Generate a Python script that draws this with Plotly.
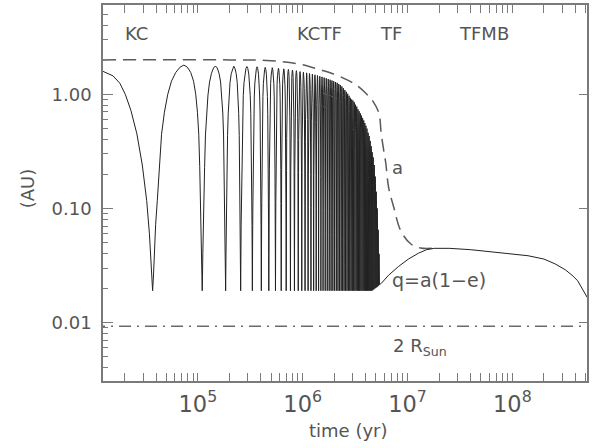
import plotly.graph_objects as go

# ---------------- data ----------------
# leading partial Kozai arc (time in yr, q in AU)
lead_t = [12400, 15500, 18000, 20300, 23000, 26200, 29500, 32500, 34500, 36000]
lead_q = [1.59, 1.45, 1.25, 1.0, 0.72, 0.45, 0.24, 0.117, 0.06, 0.032]

# times of pericentre minima (kyr)
min_t_kyr = [37, 110, 184, 256, 331, 403, 475, 550, 624, 696, 764, 834, 907, 980,
             1053, 1126, 1199, 1272, 1345, 1418, 1491, 1564, 1639, 1714, 1789, 1864,
             1939, 2014, 2092, 2170, 2248, 2326, 2404, 2482, 2564, 2646, 2728, 2810,
             2892, 2974, 3061, 3148, 3235, 3322, 3409, 3496, 3589, 3682, 3775, 3868,
             3961, 4054, 4154, 4254, 4354, 4454, 4554, 4654, 4762, 4870, 4978, 5086,
             5194, 5302, 5400]
# q at each minimum (AU)
min_q = [0.019] * 57 + [0.0192, 0.0195, 0.0198, 0.0201, 0.0204, 0.0207, 0.0211, 0.0215]
# q at each maximum between consecutive minima (AU)
peak_q = [1.80, 1.77, 1.76, 1.75, 1.74, 1.72, 1.71, 1.69, 1.67, 1.65, 1.63, 1.61,
          1.58, 1.56, 1.54, 1.52, 1.50, 1.48, 1.46, 1.44, 1.42, 1.40, 1.38, 1.36,
          1.34, 1.32, 1.30, 1.28, 1.26, 1.23, 1.20, 1.17, 1.13, 1.09, 1.05, 1.01,
          0.97, 0.93, 0.90, 0.88, 0.85, 0.81, 0.78, 0.74, 0.71, 0.68, 0.65, 0.62,
          0.59, 0.56, 0.53, 0.50, 0.46, 0.43, 0.39, 0.35, 0.31, 0.28, 0.24, 0.19,
          0.14, 0.10, 0.065, 0.04]
# shape of one half Kozai arc read from the first full cycle (phase, fraction of rise)
arc_phase = [0, 0.01, 0.02, 0.035, 0.055, 0.08, 0.11, 0.15, 0.2, 0.26, 0.335, 0.42, 0.5]
arc_frac = [0, 0.004, 0.012, 0.03, 0.055, 0.12, 0.24, 0.38, 0.55, 0.72, 0.86, 0.96, 1.0]

# after tidal capture
tail_t = [5.66e6, 6.6e6, 8.2e6, 1.02e7, 1.27e7, 1.52e7, 1.8e7, 2.5e7, 4e7, 5.9e7,
          1.0e8, 1.41e8, 2.0e8, 2.55e8, 3.2e8, 3.8e8, 4.2e8, 4.7e8, 5.2e8]
tail_q = [0.0222, 0.026, 0.031, 0.036, 0.0405, 0.0435, 0.0447, 0.0447, 0.0435, 0.042,
          0.040, 0.0385, 0.036, 0.0327, 0.029, 0.0255, 0.0232, 0.0195, 0.0165]

# semi-major axis a (dashed)
a_t = [1.24e4, 2e5, 4.5e5, 9.3e5, 1.43e6, 2.0e6, 2.59e6, 3.3e6, 4.0e6, 4.67e6, 5.34e6,
       5.6e6, 5.9e6, 6.2e6, 6.6e6, 7.4e6, 8.6e6, 1.07e7, 1.33e7, 1.7e7]
a_v = [2.0, 2.0, 1.98, 1.84, 1.65, 1.5, 1.35, 1.19, 1.02, 0.87, 0.68,
       0.46, 0.33, 0.25, 0.153, 0.102, 0.064, 0.049, 0.045, 0.0447]

# 2 R_sun in AU
r2sun = 0.0093
line_t = [1e4, 1e9]

# ---------------- build q curve ----------------
qt = list(lead_t)
qv = list(lead_q)
qt.append(min_t_kyr[0] * 1e3)
qv.append(min_q[0])
for i, Q in enumerate(peak_q):
    t0 = min_t_kyr[i] * 1e3
    t1 = min_t_kyr[i + 1] * 1e3
    qa, qb = min_q[i], min_q[i + 1]
    P = t1 - t0
    for ph, f in zip(arc_phase[1:], arc_frac[1:]):
        qt.append(t0 + ph * P)
        qv.append(qa + (Q - qa) * f)
    for ph, f in list(zip(arc_phase[:-1], arc_frac[:-1]))[::-1]:
        qt.append(t1 - ph * P)
        qv.append(qb + (Q - qb) * f)
qt += tail_t
qv += tail_q

FONT = "DejaVu Sans"
TXT = "#555555"
AX = "#7a7a7a"

fig = go.Figure()
fig.add_trace(go.Scatter(x=line_t, y=[r2sun, r2sun], mode="lines",
                         line=dict(color="#6a6a6a", width=1.5, dash="12px,6px,2px,6px"),
                         hoverinfo="skip"))
fig.add_trace(go.Scatter(x=a_t, y=a_v, mode="lines", line_shape="spline",
                         line=dict(color="#5a5a5a", width=1.5, dash="13px,7px"),
                         hoverinfo="skip"))
fig.add_trace(go.Scatter(x=qt, y=qv, mode="lines",
                         line=dict(color="#222222", width=1.0), hoverinfo="skip"))
fig.add_trace(go.Scatter(x=[1e5], y=[1], yaxis="y2", mode="markers",
                         marker=dict(opacity=0), hoverinfo="skip"))

axis_common = dict(type="log", showgrid=False, zeroline=False, ticks="inside",
                   tickcolor=AX, tickwidth=1, showline=True, linecolor=AX, linewidth=1.5,
                   tickfont=dict(family=FONT, size=18, color=TXT), dtick=1)

fig.update_layout(
    width=592, height=448,
    margin=dict(l=103, r=3, t=5, b=67),
    paper_bgcolor="white", plot_bgcolor="white",
    showlegend=False,
    xaxis=dict(axis_common, range=[4.095, 8.712], ticklen=8, mirror="allticks",
               exponentformat="power", ticklabelstandoff=3,
               minor=dict(ticks="inside", ticklen=4, tickcolor=AX, dtick="D1")),
    yaxis=dict(axis_common, range=[-2.512, 0.782], ticklen=10, mirror=True,
               tickformat=".2f", ticklabelstandoff=6,
               minor=dict(ticks="inside", ticklen=5, tickcolor=AX, dtick="D1")),
    yaxis2=dict(type="log", range=[-2.512, 0.782], overlaying="y", side="right",
                dtick=1, ticks="inside", ticklen=8, tickcolor=AX, showticklabels=False,
                showline=False, showgrid=False, zeroline=False),
)

def P(x, y):
    return (x - 103) / 486, (381 - y) / 376

def label(text, x, y, size=18, xanchor="center", angle=0):
    px, py = P(x, y)
    fig.add_annotation(text=text, x=px, y=py, xref="paper", yref="paper",
                       xanchor=xanchor, yanchor="middle", showarrow=False,
                       textangle=angle, font=dict(family=FONT, size=size, color=TXT))

label("KC", 137, 33)
label("KCTF", 320, 33)
label("TF", 392, 33)
label("TFMB", 486, 33)
label("a", 399, 168)
label("q=a(1\u2212e)", 391, 280, size=19, xanchor="left")
label("2 R<sub>Sun</sub>", 392, 347, xanchor="left")
label("time (yr)", 350, 430)
label("(AU)", 27, 188, angle=-90)

fig.write_html("out.html", config={"displayModeBar": False},
               post_script="document.body.style.margin='0px';")
